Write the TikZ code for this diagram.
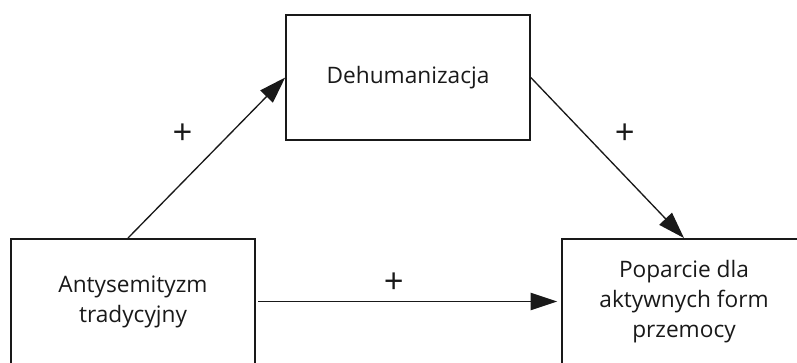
\documentclass[tikz,border=0pt]{standalone}
\usepackage{fontspec}
\setmainfont{Open Sans}
\usetikzlibrary{arrows.meta}

\tikzset{
	varbox/.style={draw=black!90, line width=1.2pt, minimum width=183pt, minimum height=94pt,
		align=center, font=\fontsize{17}{22.5}\selectfont, text=black!90},
	link/.style={line width=1pt, draw=black!90, -{Triangle[length=20pt,width=13pt]}},
	sign/.style={font=\fontsize{26}{28}\selectfont, text=black!90}
}

\begin{document}
\begin{tikzpicture}[x=0.75pt, y=-0.75pt]
	\useasboundingbox (0,0) rectangle (797,362);
	\clip (0,0) rectangle (797,362);
	
	\node[varbox] (deh) at (408,77.5) {Dehumanizacja};
	
	\node[varbox] (anty) at (133,301.5) {Antysemityzm\\tradycyjny};
	
	\node[varbox] (pop) at (684,301.5) {Poparcie dla\\aktywnych form\\przemocy};
	
	\draw[link] ([xshift=-3.75pt]anty.north) -- (deh.west)
		node[sign, midway, xshift=-18pt, yshift=18pt] {+};
	
	\draw[link] (deh.east) -- (pop.north)
		node[sign, midway, xshift=13pt, yshift=18pt] {+};
	
	\draw[link, shorten <=2pt, shorten >=3pt] (anty.east) -- (pop.west)
		node[sign, midway, xshift=-11pt, yshift=14pt] {+};
	
\end{tikzpicture}
\end{document}
